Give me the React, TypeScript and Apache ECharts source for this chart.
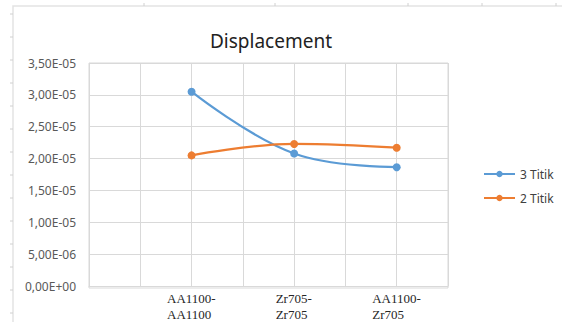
import React, { useEffect, useRef } from "react";
import * as echarts from "echarts";

const categories = ["", "", "AA1100-\nAA1100", "", "Zr705-\nZr705", "", "AA1100-\nZr705", ""];
const seriesNames = ["3 Titik", "2 Titik"];
const titik3 = [null, null, 3.05e-5, null, 2.08e-5, null, 1.865e-5, null];
const titik2 = [null, null, 2.05e-5, null, 2.23e-5, null, 2.17e-5, null];
const yMax = 3.5e-5;
const yInterval = 0.5e-5;

const XFONT = "13px 'Liberation Serif'";

function fmtSci(v: number): string {
  if (v === 0) return "0,00E+00";
  const [m, e] = v.toExponential(2).split("e");
  const exp = parseInt(e, 10);
  const sign = exp < 0 ? "-" : "+";
  const abs = Math.abs(exp).toString().padStart(2, "0");
  return m.replace(".", ",") + "E" + sign + abs;
}

function measure(text: string): number {
  const c = document.createElement("canvas").getContext("2d");
  if (!c) return text.length * 6.5;
  c.font = XFONT;
  return c.measureText(text).width;
}

export default function App() {
  const ref = useRef<HTMLDivElement>(null);
  useEffect(() => {
    if (!ref.current) return;
    const chart = echarts.init(ref.current, null, { renderer: "svg" });
    const gridColor = "#d9d9d9";
    const topTicks = [144, 275, 408, 482, 556];
    const leftTicks: number[] = [];
    for (let y = 14; y < 322; y += 23) leftTicks.push(y);

    const rich: Record<string, any> = {};
    categories.forEach((cat, i) => {
      const lines = cat.split("\n");
      const w = Math.ceil(Math.max(...lines.map(measure)));
      rich["c" + i] = {
        width: w,
        align: "left",
        fontFamily: "Liberation Serif",
        fontSize: 13,
        color: "#262626",
        lineHeight: 16,
      };
    });

    chart.setOption({
      animation: false,
      backgroundColor: "#ffffff",
      title: {
        text: "Displacement",
        left: 205,
        top: 26,
        textStyle: { fontFamily: "Noto Sans", fontSize: 19, fontWeight: "normal", color: "#222222" },
      },
      legend: {
        orient: "vertical",
        left: 478,
        top: 163,
        itemWidth: 31,
        itemHeight: 8,
        itemGap: 12,
        textStyle: { fontFamily: "Noto Sans", fontSize: 12, color: "#404040" },
        data: seriesNames,
      },
      grid: { left: 89, right: 114, top: 63, bottom: 34 },
      xAxis: {
        type: "category",
        data: categories,
        boundaryGap: false,
        axisLine: { show: true, lineStyle: { color: gridColor, width: 1 } },
        axisTick: { show: false },
        splitLine: { show: true, interval: 0, lineStyle: { color: gridColor, width: 1 } },
        axisLabel: {
          interval: 0,
          margin: 4,
          lineHeight: 16,
          formatter: (v: string, i: number) =>
            v ? v.split("\n").map((l) => `{c${i}|${l}}`).join("\n") : "",
          rich,
        },
      },
      yAxis: {
        type: "value",
        min: 0,
        max: yMax,
        interval: yInterval,
        axisLine: { show: false },
        axisTick: { show: false },
        splitLine: { show: true, lineStyle: { color: gridColor, width: 1 } },
        axisLabel: {
          formatter: (v: number) => fmtSci(v),
          fontFamily: "Noto Sans",
          fontSize: 12,
          color: "#595959",
          margin: 13,
        },
      },
      graphic: [
        {
          type: "rect",
          shape: { x: 89, y: 63, width: 359, height: 225 },
          style: { fill: "none", stroke: gridColor, lineWidth: 1 },
          silent: true,
        },
        {
          type: "polyline",
          shape: { points: [[13, 330], [13, 6], [570, 6]] },
          style: { fill: "none", stroke: "#e3e3e3", lineWidth: 1.5 },
          silent: true,
        },
        ...topTicks.map((x) => ({
          type: "line",
          shape: { x1: x, y1: 3, x2: x, y2: 6 },
          style: { stroke: "#d0d0d0", lineWidth: 1 },
          silent: true,
        })),
        ...leftTicks.map((y) => ({
          type: "line",
          shape: { x1: 10, y1: y, x2: 13, y2: y },
          style: { stroke: "#d0d0d0", lineWidth: 1 },
          silent: true,
        })),
      ],
      series: [
        {
          name: seriesNames[0],
          type: "line",
          data: titik3,
          connectNulls: true,
          smooth: 0.4,
          symbol: "circle",
          symbolSize: 8,
          color: "#5B9BD5",
          lineStyle: { width: 2.25, color: "#5B9BD5" },
          itemStyle: { color: "#5B9BD5" },
        },
        {
          name: seriesNames[1],
          type: "line",
          data: titik2,
          connectNulls: true,
          smooth: 0.4,
          symbol: "circle",
          symbolSize: 8,
          color: "#ED7D31",
          lineStyle: { width: 2.25, color: "#ED7D31" },
          itemStyle: { color: "#ED7D31" },
        },
      ],
    });
    return () => chart.dispose();
  }, []);
  return (
    <div
      ref={ref}
      style={{ position: "fixed", left: 0, top: 0, width: 562, height: 322 }}
    />
  );
}
